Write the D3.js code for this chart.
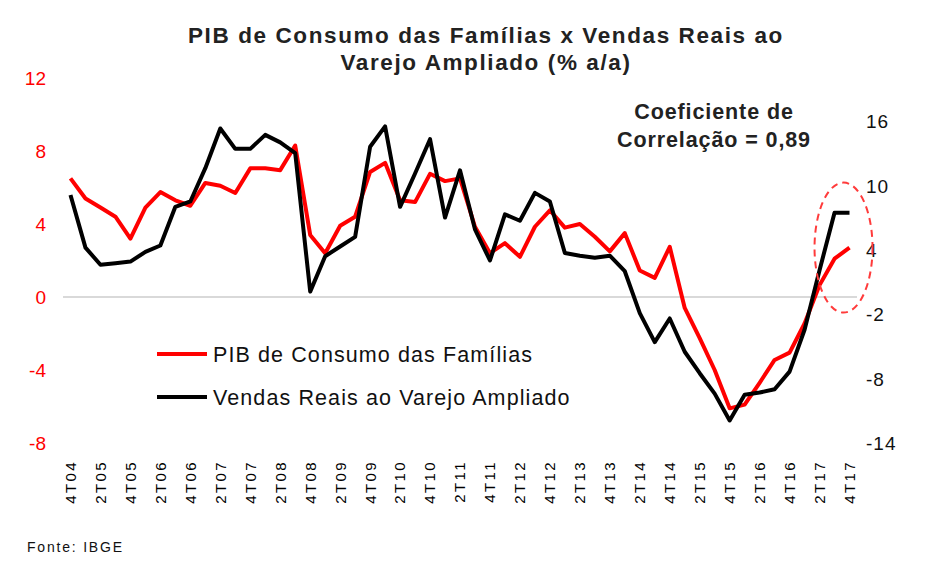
<!DOCTYPE html>
<html>
  <head>
    <meta charset="utf-8">
    <title>PIB de Consumo das Famílias x Vendas Reais ao Varejo Ampliado</title>
    <style>
      body {
        margin: 0;
        background: #fff;
        font-family: 'Liberation Sans', Arial, sans-serif;
      }
      .line {
        fill: none;
        stroke-width: 4;
        stroke-linejoin: round;
      }
    </style>
  </head>
  <body>
    <div class="chart"></div>
    <script src="https://d3js.org/d3.v7.min.js"></script>
    <script>
      // quarters 4T04 .. 4T17
      var quarters = ['4T04',
        '1T05','2T05','3T05','4T05','1T06','2T06','3T06','4T06',
        '1T07','2T07','3T07','4T07','1T08','2T08','3T08','4T08',
        '1T09','2T09','3T09','4T09','1T10','2T10','3T10','4T10',
        '1T11','2T11','3T11','4T11','1T12','2T12','3T12','4T12',
        '1T13','2T13','3T13','4T13','1T14','2T14','3T14','4T14',
        '1T15','2T15','3T15','4T15','1T16','2T16','3T16','4T16',
        '1T17','2T17','3T17','4T17'];

      // PIB de Consumo das Famílias (% a/a), left axis
      var pibConsumo = [6.5,
        5.4, 4.9, 4.4, 3.2, 4.9, 5.75, 5.3, 5.0,
        6.25, 6.1, 5.7, 7.05, 7.05, 6.95, 8.3, 3.4,
        2.4, 3.9, 4.4, 6.85, 7.35, 5.3, 5.2, 6.75,
        6.35, 6.5, 3.85, 2.4, 2.95, 2.2, 3.85, 4.75,
        3.8, 4.0, 3.3, 2.5, 3.5, 1.45, 1.05, 2.75,
        -0.6, -2.25, -4.0, -6.1, -5.9, -4.7, -3.45, -3.05,
        -1.45, 0.65, 2.1, 2.7];

      // Vendas Reais ao Varejo Ampliado (% a/a), right axis
      var vendasVarejo = [9.1,
        4.2, 2.6, 2.75, 2.9, 3.8, 4.4, 8.0, 8.5,
        11.6, 15.3, 13.4, 13.4, 14.7, 14.0, 13.0, 0.1,
        3.4, 4.3, 5.2, 13.6, 15.5, 8.0, 11.1, 14.3,
        7.0, 11.4, 5.9, 3.0, 7.3, 6.7, 9.3, 8.5,
        3.7, 3.45, 3.25, 3.45, 2.0, -1.9, -4.6, -2.4,
        -5.5, -7.5, -9.4, -11.9, -9.5, -9.3, -9.0, -7.35,
        -3.45, 2.1, 7.45, 7.45];

      var leftTicks = [12, 8, 4, 0, -4, -8];
      var rightTicks = [16, 10, 4, -2, -8, -14];
      var xLabels = quarters.filter(function(d, i) { return i % 2 == 0; });

      var seriesNames = ['PIB de Consumo das Famílias', 'Vendas Reais ao Varejo Ampliado'];
      var titleLines = ['PIB de Consumo das Famílias x Vendas Reais ao', 'Varejo Ampliado (% a/a)'];
      var noteLines = ['Coeficiente de', 'Correlação = 0,89'];

      var width = 930, height = 571;
      var plot = {left: 63, right: 857, top: 78, bottom: 443};
      var fmt = function(d) { return String(d); }; // plain hyphen minus, like the original

      var svg = d3.select('.chart').append('svg')
        .attr('width', width)
        .attr('height', height);

      var x = d3.scaleBand()
        .domain(quarters)
        .range([plot.left, plot.right]);
      var xc = function(q) { return x(q) + x.bandwidth() / 2; };

      var yLeft = d3.scaleLinear().domain([-8, 12]).range([plot.bottom, plot.top]);
      var yRight = d3.scaleLinear().domain([-14, 20]).range([plot.bottom, plot.top]);

      // title
      svg.append('g').selectAll('text')
        .data(titleLines).enter()
        .append('text')
        .attr('x', 486)
        .attr('y', function(d, i) { return 43 + i * 27; })
        .attr('text-anchor', 'middle')
        .style('font-size', '22.5px')
        .style('font-weight', 'bold')
        .style('letter-spacing', '1.6px')
        .style('fill', '#222')
        .text(function(d) { return d; });

      // zero line
      svg.append('line')
        .attr('x1', plot.left).attr('x2', plot.right)
        .attr('y1', yLeft(0)).attr('y2', yLeft(0))
        .style('stroke', '#d9d9d9')
        .style('stroke-width', 2);

      // left axis (red)
      var axisL = d3.axisLeft(yLeft).tickValues(leftTicks).tickFormat(fmt).tickSize(0).tickPadding(0);
      var gL = svg.append('g')
        .attr('transform', 'translate(46,0)')
        .call(axisL);
      gL.select('.domain').remove();
      gL.selectAll('text')
        .attr('dy', '0.35em')
        .style('font-family', "'Liberation Sans', Arial, sans-serif")
        .style('font-size', '19px')
        .style('fill', '#ff0000');

      // right axis
      var axisR = d3.axisRight(yRight).tickValues(rightTicks).tickFormat(fmt).tickSize(0).tickPadding(0);
      var gR = svg.append('g')
        .attr('transform', 'translate(866,0)')
        .call(axisR);
      gR.select('.domain').remove();
      gR.selectAll('text')
        .attr('dy', '0.35em')
        .style('font-family', "'Liberation Sans', Arial, sans-serif")
        .style('font-size', '19px')
        .style('letter-spacing', '1px')
        .style('fill', '#111');

      // x axis labels, rotated
      var axisX = d3.axisBottom(x).tickValues(xLabels).tickSize(0).tickPadding(0);
      var gX = svg.append('g')
        .attr('transform', 'translate(0,460)')
        .call(axisX);
      gX.select('.domain').remove();
      gX.selectAll('text')
        .attr('transform', 'rotate(-90)')
        .attr('text-anchor', 'end')
        .attr('x', 0)
        .attr('y', 0)
        .attr('dy', '0.36em')
        .style('font-family', "'Liberation Sans', Arial, sans-serif")
        .style('font-size', '15px')
        .style('fill', '#000')
        .style('letter-spacing', '2.4px');

      // lines
      var lineL = d3.line()
        .x(function(d, i) { return xc(quarters[i]); })
        .y(function(d) { return yLeft(d); });
      var lineR = d3.line()
        .x(function(d, i) { return xc(quarters[i]); })
        .y(function(d) { return yRight(d); });

      svg.append('path')
        .datum(pibConsumo)
        .attr('class', 'line')
        .style('stroke', '#ff0000')
        .attr('d', lineL);

      svg.append('path')
        .datum(vendasVarejo)
        .attr('class', 'line')
        .style('stroke', '#000')
        .attr('d', lineR);

      // dashed ellipse around the latest quarters
      svg.append('ellipse')
        .attr('cx', (xc('2T17') + xc('4T17')) / 2 + 9)
        .attr('cy', yRight(4.2))
        .attr('rx', 29)
        .attr('ry', 65)
        .style('fill', 'none')
        .style('stroke', '#ff3b3b')
        .style('stroke-width', 2)
        .style('stroke-dasharray', '7,5');

      // correlation note
      svg.append('g').selectAll('text')
        .data(noteLines).enter()
        .append('text')
        .attr('x', 714)
        .attr('y', function(d, i) { return 119 + i * 28; })
        .attr('text-anchor', 'middle')
        .style('font-size', '21.5px')
        .style('font-weight', 'bold')
        .style('letter-spacing', '0.9px')
        .style('fill', '#222')
        .text(function(d) { return d; });

      // legend
      var legend = svg.append('g').selectAll('g')
        .data(seriesNames).enter()
        .append('g')
        .attr('transform', function(d, i) { return 'translate(157,' + (354 + i * 43) + ')'; });
      legend.append('line')
        .attr('x1', 0).attr('x2', 50)
        .attr('y1', 0).attr('y2', 0)
        .style('stroke', function(d, i) { return i == 0 ? '#ff0000' : '#000'; })
        .style('stroke-width', 4);
      legend.append('text')
        .attr('x', 56)
        .attr('y', 0)
        .attr('dy', '0.35em')
        .style('font-size', '21.5px')
        .style('letter-spacing', '1.1px')
        .style('fill', '#111')
        .text(function(d) { return d; });

      // source
      svg.append('text')
        .attr('x', 27)
        .attr('y', 552)
        .style('font-size', '14px')
        .style('letter-spacing', '1.8px')
        .style('fill', '#111')
        .text('Fonte: IBGE');
    </script>
  </body>
</html>
